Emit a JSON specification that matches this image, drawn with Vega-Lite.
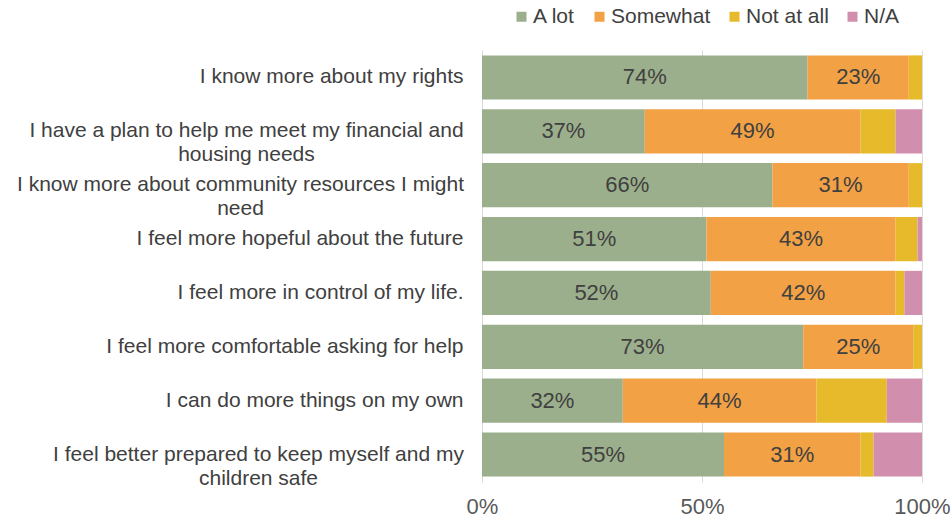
{
  "$schema": "https://vega.github.io/schema/vega-lite/v6.json",
  "width": 440,
  "height": 432,
  "autosize": {"type": "none"},
  "padding": {"left": 482, "top": 50, "right": 30, "bottom": 42},
  "background": "white",
  "config": {
    "font": "Liberation Sans",
    "view": {"stroke": null}
  },
  "data": {
    "values": [
      {"q": "I know more about my rights", "cat": "A lot", "o": 1, "v": 0.74},
      {"q": "I know more about my rights", "cat": "Somewhat", "o": 2, "v": 0.23},
      {"q": "I know more about my rights", "cat": "Not at all", "o": 3, "v": 0.03},
      {"q": "I know more about my rights", "cat": "N/A", "o": 4, "v": 0.0},
      {"q": "I have a plan to help me meet my financial and|housing needs", "cat": "A lot", "o": 1, "v": 0.37},
      {"q": "I have a plan to help me meet my financial and|housing needs", "cat": "Somewhat", "o": 2, "v": 0.49},
      {"q": "I have a plan to help me meet my financial and|housing needs", "cat": "Not at all", "o": 3, "v": 0.08},
      {"q": "I have a plan to help me meet my financial and|housing needs", "cat": "N/A", "o": 4, "v": 0.06},
      {"q": "I know more about community resources I might|need", "cat": "A lot", "o": 1, "v": 0.66},
      {"q": "I know more about community resources I might|need", "cat": "Somewhat", "o": 2, "v": 0.31},
      {"q": "I know more about community resources I might|need", "cat": "Not at all", "o": 3, "v": 0.03},
      {"q": "I know more about community resources I might|need", "cat": "N/A", "o": 4, "v": 0.0},
      {"q": "I feel more hopeful about the future", "cat": "A lot", "o": 1, "v": 0.51},
      {"q": "I feel more hopeful about the future", "cat": "Somewhat", "o": 2, "v": 0.43},
      {"q": "I feel more hopeful about the future", "cat": "Not at all", "o": 3, "v": 0.05},
      {"q": "I feel more hopeful about the future", "cat": "N/A", "o": 4, "v": 0.01},
      {"q": "I feel more in control of my life.", "cat": "A lot", "o": 1, "v": 0.52},
      {"q": "I feel more in control of my life.", "cat": "Somewhat", "o": 2, "v": 0.42},
      {"q": "I feel more in control of my life.", "cat": "Not at all", "o": 3, "v": 0.02},
      {"q": "I feel more in control of my life.", "cat": "N/A", "o": 4, "v": 0.04},
      {"q": "I feel more comfortable asking for help", "cat": "A lot", "o": 1, "v": 0.73},
      {"q": "I feel more comfortable asking for help", "cat": "Somewhat", "o": 2, "v": 0.25},
      {"q": "I feel more comfortable asking for help", "cat": "Not at all", "o": 3, "v": 0.02},
      {"q": "I feel more comfortable asking for help", "cat": "N/A", "o": 4, "v": 0.0},
      {"q": "I can do more things on my own", "cat": "A lot", "o": 1, "v": 0.32},
      {"q": "I can do more things on my own", "cat": "Somewhat", "o": 2, "v": 0.44},
      {"q": "I can do more things on my own", "cat": "Not at all", "o": 3, "v": 0.16},
      {"q": "I can do more things on my own", "cat": "N/A", "o": 4, "v": 0.08},
      {"q": "I feel better prepared to keep myself and my|children safe", "cat": "A lot", "o": 1, "v": 0.55},
      {"q": "I feel better prepared to keep myself and my|children safe", "cat": "Somewhat", "o": 2, "v": 0.31},
      {"q": "I feel better prepared to keep myself and my|children safe", "cat": "Not at all", "o": 3, "v": 0.03},
      {"q": "I feel better prepared to keep myself and my|children safe", "cat": "N/A", "o": 4, "v": 0.11}
    ]
  },
  "transform": [
    {"stack": "v", "groupby": ["q"], "sort": [{"field": "o", "order": "ascending"}], "as": ["x0", "x1"]},
    {"calculate": "(datum.x0 + datum.x1) / 2", "as": "xm"}
  ],
  "encoding": {
    "y": {
      "field": "q",
      "type": "nominal",
      "sort": null,
      "scale": {"paddingInner": 0.18, "paddingOuter": 0.1},
      "axis": {
        "title": null,
        "ticks": false,
        "domain": false,
        "labelLimit": 700,
        "labelFontSize": 21,
        "labelColor": "#404040",
        "labelLineHeight": 24,
        "labelAlign": {
          "condition": {"test": "indexof(datum.value, '|') >= 0", "value": "center"},
          "value": "right"
        },
        "labelPadding": {
          "condition": [
            {"test": "indexof(datum.value, 'financial') >= 0", "value": 236},
            {"test": "indexof(datum.value, 'community') >= 0", "value": 242},
            {"test": "indexof(datum.value, 'prepared') >= 0", "value": 224}
          ],
          "value": 19
        },
        "labelExpr": "split(datum.label, '|')"
      }
    }
  },
  "layer": [
    {
      "mark": {"type": "bar"},
      "encoding": {
        "x": {
          "field": "x0",
          "type": "quantitative",
          "scale": {"domain": [0, 1]},
          "axis": {
            "title": null,
            "values": [0, 0.5, 1],
            "format": ".0%",
            "ticks": false,
            "domain": false,
            "grid": true,
            "gridColor": "#d9d9d9",
            "labelFontSize": 22,
            "labelColor": "#595959",
            "labelPadding": 14,
            "labelFlush": false
          }
        },
        "x2": {"field": "x1"},
        "color": {
          "field": "cat",
          "type": "nominal",
          "scale": {
            "domain": ["A lot", "Somewhat", "Not at all", "N/A"],
            "range": ["#9CAF8C", "#F2A144", "#E6BA2A", "#D18FAD"]
          },
          "legend": {
            "title": null,
            "orient": "none",
            "direction": "horizontal",
            "legendX": 29,
            "legendY": -44,
            "symbolType": "square",
            "symbolSize": 100,
            "symbolStrokeWidth": 0,
            "labelFontSize": 21,
            "labelColor": "#404040",
            "labelOffset": 1,
            "columnPadding": 13
          }
        }
      }
    },
    {
      "transform": [{"filter": "datum.o <= 2"}],
      "mark": {"type": "text", "fontSize": 22, "color": "#404040", "baseline": "middle", "align": "center"},
      "encoding": {
        "x": {"field": "xm", "type": "quantitative"},
        "text": {"field": "v", "type": "quantitative", "format": ".0%"}
      }
    }
  ]
}
